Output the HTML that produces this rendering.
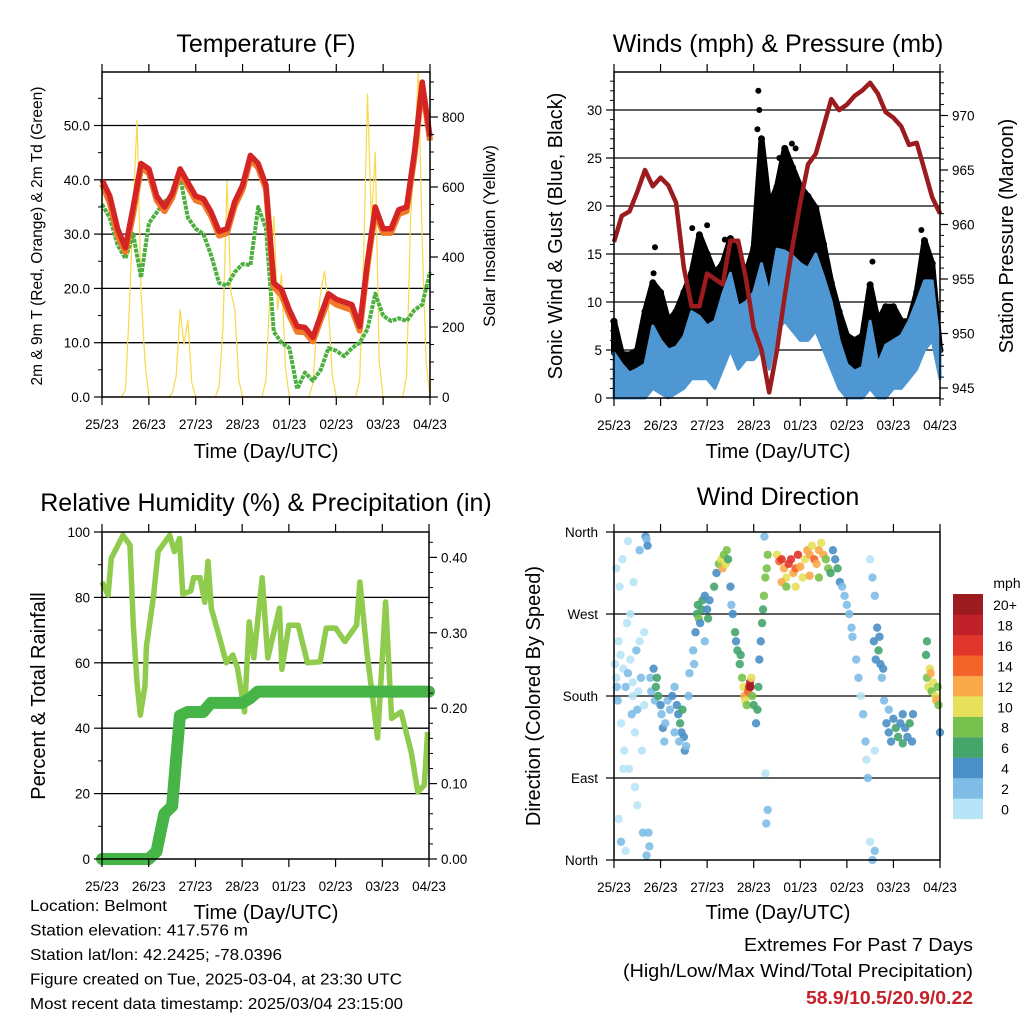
<!DOCTYPE html>
<html><head><meta charset="utf-8"><style>
html,body{margin:0;padding:0;background:#fff}
svg{display:block;font-family:"Liberation Sans",sans-serif}
</style></head><body>
<svg id="c" width="1024" height="1024" viewBox="0 0 1024 1024" xmlns="http://www.w3.org/2000/svg"></svg>
<script>
// ---------- DATA ----------
const dayLabels=["25/23","26/23","27/23","28/23","01/23","02/23","03/23","04/23"];
// 4-hourly (43 points, day = i/6)
const temp2m=[40,37,31,27.5,35,43,42,37,35,37.5,42,39.5,37,36.5,34,30.5,31,36,39,44.5,43,39,21,19.8,16,13,12.8,11,15,19,18,17.5,17,13,25,35,31,31,34.5,35,45,58,48];
const temp9m=[39.5,36,30,27,34,42.5,41.5,36.5,34.5,37,41.5,39,36.5,36,33.5,30,30.5,35.5,38.5,44,42.5,38.5,20.5,19,15.3,12.3,12.2,10.5,14.5,18.3,17.3,16.8,16.3,12.5,24.5,34.5,30.5,30.5,34,34.5,44.5,57.5,47.5];
const dewpt=[35.5,33,28,25.5,30,22,32,34,36,37,40.5,33,31,30,26,21,20.5,23,24.5,24.3,35,31,12,10,9,1.5,4.5,3,5,9,8.5,7.5,9,10,12.5,19,15,14,14.5,14,16,17,23];
// 2-hourly solar insolation (85 points)
const solar=[0,0,0,0,0,0,20,250,550,790,300,100,
0,0,0,0,0,0,10,60,250,150,220,40,
0,0,0,0,0,0,30,200,617,300,250,50,
0,0,0,0,0,0,50,300,517,250,350,80,
0,0,0,0,0,0,40,200,300,360,250,60,
0,0,0,0,0,0,50,400,865,500,700,100,
0,0,0,0,0,0,60,500,700,930,450,100,0];
const windHi=[4.7,3.5,2.6,3,3.5,7.5,6,5,5.3,6.4,9,8.5,7.5,8,10.8,13,9.5,10,11,14,10.8,15.5,15.3,14.8,14,13.5,15,12.6,10,6,3.5,2.8,3.2,8,3.5,5.5,6,6.5,8,10,12.2,12.2,5];
const windLo=[0,0,0,0,0,1,0.5,0,0.5,1,2,2,2,1,3,5,3,4,4,5,3,7,8,7,6,6,7,5,3,1,0,0,0,1,0,0,1,1,2,3,5,6,2];
const gustHi=[8,4.6,4.5,5,9,12,11,8,9,11,13,17,15,13,14,16.6,15,13,15.6,27,20,22,26,24,22,21,19.8,16,12,9,6.5,6,6.5,11.8,8,9.5,9.5,8,8,11,16.4,14,5];
const gustOutDay=[0.88,1.68,3.1,3.12,3.08,3.82,3.9,5.55,0.85,6.6,2.38,2.0,3.55,3.7];
const gustOutVal=[15.7,17.7,32,30,28,26.5,26,14.2,13,17.5,16.5,18,25,24];
const pressure=[958.4,960.8,961.2,963,965,963.5,964.3,963.6,962,956,952.5,952.5,955.5,955,954.5,958.5,958.5,955,950.5,948.5,944.6,948.5,953.5,958,962,965.5,966.5,969,971.5,970.5,971,971.8,972.3,973,972,970.3,969.8,969,967.3,967.5,965,962.5,961];
const rainTotal=[0,0,0,0,0,0,0,0.01,0.06,0.07,0.19,0.195,0.195,0.195,0.207,0.207,0.207,0.207,0.207,0.213,0.222,0.222,0.222,0.222,0.222,0.222,0.222,0.222,0.222,0.222,0.222,0.222,0.222,0.222,0.222,0.222,0.222,0.222,0.222,0.222,0.222,0.222,0.222];
const rhDays=[0,0.13,0.2,0.45,0.6,0.67,0.75,0.82,0.92,0.95,1.1,1.2,1.45,1.55,1.66,1.73,1.9,1.96,2.1,2.2,2.27,2.34,2.5,2.66,2.8,2.9,3.05,3.15,3.25,3.43,3.55,3.8,3.85,4.0,4.2,4.4,4.67,4.8,5.0,5.2,5.45,5.52,5.67,5.9,6.07,6.2,6.4,6.62,6.76,6.9,6.97];
const rhVals=[84.7,80.7,92,99,96,71.5,54,44,53,65,80,94,99,94,98,81,82,86,86,78.5,91,76.7,68.5,60,62.4,58.4,45,72.5,61.5,86,61.5,76.7,58,71.5,71.5,60,60.3,70.6,70.6,66.5,71.5,84.7,63.3,37,78.6,43,45,32.7,20.5,22.6,38.8];
const dirDay=[0.05,0.08,0.1,0.12,0.15,0.18,0.2,0.22,0.25,0.28,0.3,0.32,0.35,0.38,0.4,0.42,0.45,0.48,0.5,0.52,0.55,0.58,0.6,0.62,0.65,0.68,0.7,0.72,0.74,0.76,0.78,0.8,0.05,0.1,0.15,0.2,0.85,0.88,0.35,0.55,0.45,0.25,0.7,0.65,0.02,0.06,0.14,0.3,0.4,0.5,
0.9,0.92,0.95,1.0,1.02,1.05,1.08,1.1,1.15,1.2,1.25,1.3,1.35,1.38,1.42,1.45,1.5,1.52,1.55,1.6,1.62,1.3,1.4,1.47,
1.7,1.75,1.78,1.8,1.82,1.85,1.88,1.9,1.95,2.0,2.02,2.05,1.72,1.95,
2.15,2.2,2.25,2.3,2.33,2.36,2.4,2.42,2.45,2.5,2.52,2.55,
2.6,2.62,2.65,2.7,2.72,2.75,2.78,2.8,2.82,2.85,2.88,2.9,2.92,2.93,2.95,2.97,3.0,
3.05,3.08,3.1,3.12,3.15,3.18,3.2,3.22,3.25,3.28,3.3,3.23,3.25,3.3,3.27,
3.5,3.55,3.6,3.65,3.7,3.75,3.8,3.85,3.9,3.95,4.0,4.05,4.1,4.15,4.2,4.25,4.3,4.35,4.4,4.45,4.5,4.55,4.6,4.65,4.7,4.75,4.8,4.85,3.6,3.7,3.9,4.2,4.4,
4.9,4.95,5.0,5.05,5.1,5.12,5.2,5.25,5.3,5.35,5.4,5.42,5.45,5.5,5.55,5.6,5.5,5.55,5.6,5.58,5.62,5.65,5.68,5.7,5.72,5.75,5.78,5.8,5.6,
5.85,5.9,5.95,6.0,6.05,6.1,6.15,6.2,6.25,6.3,6.35,6.4,6.42,5.9,6.2,
6.7,6.72,6.75,6.78,6.8,6.82,6.85,6.9,6.92,6.95,6.97,7.0,6.72];
const dirDeg=[200,175,240,300,150,330,210,120,190,260,350,100,220,160,195,305,140,230,60,185,340,200,120,30,250,355,352,345,30,15,200,185,320,45,20,100,210,175,270,240,80,10,5,170,215,190,225,205,180,165,
190,200,180,170,160,145,130,150,175,165,180,190,170,160,150,140,135,120,125,180,205,140,130,165,
230,250,270,280,265,260,275,285,290,275,265,285,215,240,
300,315,325,330,320,335,325,340,330,300,280,270,
250,240,230,215,225,200,190,180,175,170,185,190,195,190,200,180,170,
150,165,190,220,240,260,275,290,310,320,335,355,95,55,40,
335,328,330,320,310,325,330,315,320,335,322,310,330,340,335,345,330,325,340,348,335,330,320,315,340,330,320,305,305,300,300,312,310,
300,290,280,270,255,245,220,200,180,160,130,110,90,20,0,10,330,310,290,240,220,255,230,245,215,200,210,175,120,
150,140,130,155,145,135,150,128,145,135,150,130,160,165,160,
225,200,190,210,205,185,195,180,175,190,170,140,240];
const dirSpd=[1,2,1,1,1,0,1,1,2,1,1,1,0,2,1,1,1,2,1,1,2,2,1,2,1,4,3,4,3,2,3,2,1,1,2,0,4,2,1,1,0,1,2,0,1,2,1,2,1,3,
6,7,6,4,3,4,3,3,2,3,4,3,4,5,6,5,4,4,3,2,3,2,3,6,
3,5,6,7,8,4,6,7,4,5,7,4,2,3,
6,5,8,10,12,9,10,8,6,4,3,4,
6,5,6,7,6,9,10,12,11,9,14,16,18,20,10,9,6,
5,6,7,4,4,6,7,8,8,9,9,3,1,3,3,
10,14,16,12,11,17,16,12,14,17,12,10,11,13,12,11,14,13,12,10,12,8,9,7,5,4,6,4,12,8,10,12,9,
3,2,3,2,3,2,3,2,1,2,2,1,2,1,2,3,1,3,3,4,4,5,6,5,4,3,5,3,1,
4,4,5,4,6,6,5,6,4,5,6,4,5,3,4,
6,9,10,10,12,9,11,10,12,9,8,4,6];
const spdColors=["#b8e4f7","#7fbde6","#4a8fc6","#44a56b","#79c14d","#e6e05a","#f9a84a","#f26429","#e0352b","#c0202a","#9b1b1e"];
const spdLabels=["0","2","4","6","8","10","12","14","16","18","20+"];

// ---------- HELPERS ----------
const NS="http://www.w3.org/2000/svg";
const svg=document.getElementById('c');
function el(tag,attrs,parent,text){const e=document.createElementNS(NS,tag);for(const k in attrs)e.setAttribute(k,attrs[k]);if(text!==undefined)e.textContent=text;(parent||svg).appendChild(e);return e;}
function grp(name){const g=el('g',{});return g;}
function pathFrom(xs,ys){let d='';for(let i=0;i<xs.length;i++)d+=(i?'L':'M')+xs[i].toFixed(1)+','+ys[i].toFixed(1);return d;}
function xAxis(g,x0,x1,y0,y1){
  const sx=d=>x0+d*(x1-x0)/7;
  for(let i=0;i<8;i++){
    const x=sx(i);
    el('line',{x1:x,y1:y1,x2:x,y2:y1+8,stroke:'#000','stroke-width':1.2},g);
    el('line',{x1:x,y1:y0,x2:x,y2:y0-8,stroke:'#000','stroke-width':1.2},g);
    const t=el('text',{x:x,y:y1+32,'font-size':13.5,'text-anchor':'middle'},g,dayLabels[i]);
    
    
  }
}
function hGrid(g,x0,x1,ys){ys.forEach(y=>el('line',{x1:x0,y1:y,x2:x1,y2:y,stroke:'#000','stroke-width':1.3},g));}
function frame(g,x0,x1,y0,y1){el('rect',{x:x0,y:y0,width:x1-x0,height:y1-y0,fill:'none',stroke:'#000','stroke-width':1.5},g);}
function txt(g,x,y,s,size,anchor,name,extra){const t=el('text',Object.assign({x:x,y:y,'font-size':size,'text-anchor':anchor||'middle'},extra||{}),g,s);return t;}
function vtxt(g,x,y,s,size,name){const t=el('text',{x:0,y:0,'font-size':size,'text-anchor':'middle',transform:`translate(${x},${y}) rotate(-90)`},g,s);return t;}
function ticksLeft(g,x0,vals,sy,lbl,size,minorVals){
  vals.forEach(v=>{const y=sy(v);el('line',{x1:x0,y1:y,x2:x0-8,y2:y,stroke:'#000','stroke-width':1.2},g);txt(g,x0-12,y+5,lbl(v),size,'end','y-tick-label');});
  (minorVals||[]).forEach(v=>{const y=sy(v);el('line',{x1:x0,y1:y,x2:x0-4,y2:y,stroke:'#000','stroke-width':1},g);});
}
function ticksRight(g,x1,vals,sy,lbl,size,minorVals){
  vals.forEach(v=>{const y=sy(v);el('line',{x1:x1,y1:y,x2:x1+8,y2:y,stroke:'#000','stroke-width':1.2},g);txt(g,x1+12,y+5,lbl(v),size,'start','y2-tick-label');});
  (minorVals||[]).forEach(v=>{const y=sy(v);el('line',{x1:x1,y1:y,x2:x1+4,y2:y,stroke:'#000','stroke-width':1},g);});
}
function range(a,b,s){const r=[];for(let v=a;v<=b+1e-9;v+=s)r.push(+v.toFixed(4));return r;}

// ---------- PANEL 1: TEMPERATURE ----------
(function(){
  const x0=102,x1=430,y0=72,y1=397;
  const sx=d=>x0+d*(x1-x0)/7, sy=t=>397-t*5.43, ss=s=>397-s*0.35;
  const g=grp('temperature-panel');
  hGrid(g,x0,x1,[10,20,30,40,50].map(sy));
  const days4=temp2m.map((_,i)=>i/6), days2=solar.map((_,i)=>i/12);
  const ys=el('path',{d:pathFrom(days2.map(sx),solar.map(ss)),fill:'none',stroke:'#f7d94a','stroke-width':1.2,'stroke-linejoin':'round'},g);
  
  const gd=el('path',{d:pathFrom(days4.map(sx),dewpt.map(sy)),fill:'none',stroke:'#4caf3f','stroke-width':4,'stroke-dasharray':'4 1','stroke-linejoin':'round'},g);
  
  const o=el('path',{d:pathFrom(days4.map(sx),temp9m.map(v=>sy(v)+1.5)),fill:'none',stroke:'#f07a2a','stroke-width':6,'stroke-linejoin':'round'},g);
  
  const r=el('path',{d:pathFrom(days4.map(sx),temp2m.map(sy)),fill:'none',stroke:'#d42424','stroke-width':5.5,'stroke-linejoin':'round'},g);
  
  frame(g,x0,x1,y0,y1);
  xAxis(g,x0,x1,y0,y1);
  ticksLeft(g,x0,[0,10,20,30,40,50],sy,v=>v.toFixed(1),13.5,[5,15,25,35,45,55]);
  ticksRight(g,x1,[0,200,400,600,800],ss,v=>String(v),13.5,range(50,900,50).filter(v=>v%200));
  txt(g,266,52,'Temperature (F)',25,'middle','temperature-title');
  txt(g,266,458,'Time (Day/UTC)',20,'middle','x-axis-title');
  vtxt(g,42,236,'2m & 9m T (Red, Orange) & 2m Td (Green)',15.5,'y-axis-title');
  vtxt(g,495,236,'Solar Insolation (Yellow)',17,'y2-axis-title');
})();

// ---------- PANEL 2: WINDS ----------
(function(){
  const x0=614,x1=940,y0=72,y1=398;
  const sx=d=>x0+d*(x1-x0)/7, sy=s=>398-s*9.6, sp=p=>388-(p-945)*10.9;
  const g=grp('winds-panel');
  hGrid(g,x0,x1,[5,10,15,20,25,30].map(sy));
  const days4=windHi.map((_,i)=>i/6);
  const gx=days4.map(sx);
  const gb=el('path',{d:pathFrom(gx,gustHi.map(sy))+'L'+pathFrom(gx.slice().reverse(),windHi.slice().reverse().map(sy)).slice(1)+'Z',fill:'#000',stroke:'#000','stroke-width':6,'stroke-linejoin':'round'},g);
  
  gustHi.forEach((v,i)=>{const c=el('circle',{cx:gx[i],cy:sy(v),r:3.5,fill:'#000'},g);});
  gustOutDay.forEach((d,i)=>{const c=el('circle',{cx:sx(d),cy:sy(gustOutVal[i]),r:3,fill:'#000'},g);});
  const wb=el('path',{d:pathFrom(gx,windHi.map(sy))+'L'+pathFrom(gx.slice().reverse(),windLo.slice().reverse().map(sy)).slice(1)+'Z',fill:'#4f97d2',stroke:'#4f97d2','stroke-width':3,'stroke-linejoin':'round'},g);
  
  const pl=el('path',{d:pathFrom(gx,pressure.map(sp)),fill:'none',stroke:'#9b1b1e','stroke-width':4.5,'stroke-linejoin':'round'},g);
  
  frame(g,x0,x1,y0,y1);
  xAxis(g,x0,x1,y0,y1);
  ticksLeft(g,x0,[0,5,10,15,20,25,30],sy,v=>String(v),13.5,range(1,33,1).filter(v=>v%5));
  ticksRight(g,x1,[945,950,955,960,965,970],sp,v=>String(v),13.5,range(944,974,1).filter(v=>v%5));
  txt(g,778,52,'Winds (mph) & Pressure (mb)',25,'middle','winds-title');
  txt(g,778,458,'Time (Day/UTC)',20,'middle','x-axis-title');
  vtxt(g,562,236,'Sonic Wind & Gust (Blue, Black)',20,'y-axis-title');
  vtxt(g,1013,236,'Station Pressure (Maroon)',20,'y2-axis-title');
})();

// ---------- PANEL 3: RH & RAIN ----------
(function(){
  const x0=102,x1=429,y0=532,y1=859;
  const sx=d=>x0+d*(x1-x0)/7, sy=v=>859-v*3.27, sr=r=>859-r*754;
  const g=grp('humidity-panel');
  hGrid(g,x0,x1,[20,40,60,80].map(sy));
  const rl=el('path',{d:pathFrom(rhDays.map(sx),rhVals.map(sy)),fill:'none',stroke:'#8fcb4c','stroke-width':5.5,'stroke-linejoin':'round'},g);
  
  const days4=rainTotal.map((_,i)=>i/6);
  const rn=el('path',{d:pathFrom(days4.map(sx),rainTotal.map(sr)),fill:'none',stroke:'#46b446','stroke-width':12,'stroke-linejoin':'round','stroke-linecap':'round'},g);
  
  frame(g,x0,x1,y0,y1);
  xAxis(g,x0,x1,y0,y1);
  ticksLeft(g,x0,[0,20,40,60,80,100],sy,v=>String(v),13.5,[10,30,50,70,90]);
  ticksRight(g,x1,[0,0.1,0.2,0.3,0.4],sr,v=>v.toFixed(2),13.5,range(0.02,0.42,0.02).filter(v=>Math.round(v*100)%10));
  txt(g,266,511,'Relative Humidity (%) & Precipitation (in)',25,'middle','humidity-title');
  txt(g,266,919,'Time (Day/UTC)',20,'middle','x-axis-title');
  vtxt(g,45,696,'Percent & Total Rainfall',20,'y-axis-title');
})();

// ---------- PANEL 4: WIND DIRECTION ----------
(function(){
  const x0=614,x1=940,y0=532,y1=860;
  const sx=d=>x0+d*(x1-x0)/7, sy=a=>860-a*(328/360);
  const g=grp('wind-direction-panel');
  hGrid(g,x0,x1,[90,180,270].map(sy));
  dirDay.forEach((d,i)=>{
    const k=Math.min(10,Math.floor(dirSpd[i]/2));
    const c=el('circle',{cx:sx(d),cy:sy(dirDeg[i]),r:4.2,fill:spdColors[k],'fill-opacity':0.9},g);
    
    
  });
  frame(g,x0,x1,y0,y1);
  xAxis(g,x0,x1,y0,y1);
  const names=['North','East','South','West','North'];
  [0,90,180,270,360].forEach((a,i)=>{const y=sy(a);el('line',{x1:x0,y1:y,x2:x0-8,y2:y,stroke:'#000','stroke-width':1.2},g);txt(g,x0-16,y+5,names[i],13.5,'end','y-tick-label');});
  txt(g,778,505,'Wind Direction',25,'middle','wind-direction-title');
  txt(g,778,919,'Time (Day/UTC)',20,'middle','x-axis-title');
  vtxt(g,540,696,'Direction (Colored By Speed)',20,'y-axis-title');
  const lg=grp('speed-legend');
  txt(lg,1007,588,'mph',14,'middle','legend-title');
  spdColors.forEach((c,i)=>{
    const y=594+(10-i)*20.45;
    const r=el('rect',{x:953,y:y,width:30,height:20.6,fill:c},lg);
    
    txt(lg,1005,y+16,spdLabels[i],14,'middle','legend-label');
  });
})();

// ---------- FOOTER ----------
(function(){
  const g=grp('station-info');
  const lines=["Location: Belmont","Station elevation: 417.576 m","Station lat/lon: 42.2425; -78.0396","Figure created on Tue, 2025-03-04, at 23:30 UTC","Most recent data timestamp: 2025/03/04 23:15:00"];
  const widths=[137,218,252,372,373];
  lines.forEach((s,i)=>txt(g,30,911+i*24.5,s,16,'start','info-line',{textLength:widths[i],lengthAdjust:'spacingAndGlyphs'}));
  const e=grp('extremes-box');
  txt(e,973,951,'Extremes For Past 7 Days',18,'end','extremes-title',{textLength:229,lengthAdjust:'spacingAndGlyphs'});
  txt(e,973,977,'(High/Low/Max Wind/Total Precipitation)',18,'end','extremes-subtitle',{textLength:350,lengthAdjust:'spacingAndGlyphs'});
  txt(e,973,1004,'58.9/10.5/20.9/0.22',18,'end','extremes-values',{fill:'#c8202a','font-weight':'bold',textLength:167,lengthAdjust:'spacingAndGlyphs'});
})();
</script>
</body></html>
